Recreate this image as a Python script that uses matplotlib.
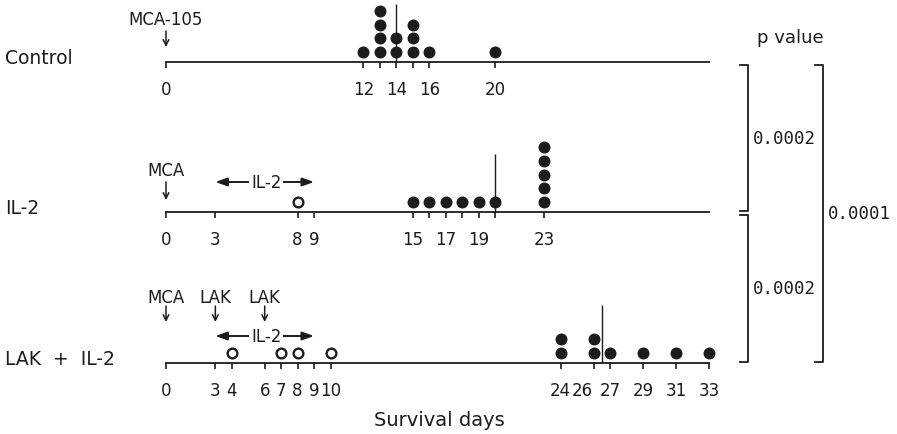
import matplotlib.pyplot as plt
import matplotlib.transforms as mtransforms
from collections import Counter

# survival day of each animal, one entry per animal
control_days = [12, 13, 13, 13, 13, 14, 14, 15, 15, 15, 16, 20]
il2_days = [15, 16, 17, 18, 19, 20, 23, 23, 23, 23, 23]
il2_early = [8]                      # open circles
lak_days = [24, 24, 26, 26, 27, 29, 31, 33]
lak_early = [4, 7, 8, 10]            # open circles
medians = [14, 20, 26.5]

row_names = ["Control", "IL-2", "LAK  +  IL-2"]

control_ticks = [0, 12, 13, 14, 15, 16, 20]
control_labels = ["0", "12", "", "14", "", "16", "20"]
il2_ticks = [0, 3, 8, 9, 15, 16, 17, 18, 19, 20, 23]
il2_labels = ["0", "3", "8", "9", "15", "", "17", "", "19", "", "23"]
lak_ticks = [0, 3, 4, 6, 7, 8, 9, 10, 24, 26, 27, 29, 31, 33]
lak_labels = [str(t) for t in lak_ticks]

# treatments: (label, day)
control_marks = [("MCA-105", 0)]
il2_marks = [("MCA", 0)]
lak_marks = [("MCA", 0), ("LAK", 3), ("LAK", 6)]
il2_span = (3, 9)

p_values = [(0, 1, "0.0002"), (1, 2, "0.0002"), (0, 2, "0.0001")]

# layout (pixels)
W, H = 897, 435
DAY0 = 166
PX_DAY = 16.45
BASE = [63, 213, 364]
ROW_H = 80
DOT_Y0, DOT_DY = 10, 13.7
INK = "#1c1c1c"

fig = plt.figure(figsize=(8.97, 4.35), dpi=100)


def stacked(days):
    seen = Counter()
    ys = []
    for d in days:
        ys.append(DOT_Y0 + DOT_DY * seen[d])
        seen[d] += 1
    return days, ys


def row_axes(i, ticks, labels):
    ax = fig.add_axes([0, (H - BASE[i]) / H, 1, ROW_H / H])
    ax.set_xlim(-DAY0 / PX_DAY, (W - DAY0) / PX_DAY)
    ax.set_ylim(0, ROW_H)
    ax.patch.set_alpha(0)
    for s in ("top", "left", "right"):
        ax.spines[s].set_visible(False)
    ax.spines["bottom"].set_bounds(0, 33)
    ax.spines["bottom"].set_linewidth(1.3)
    ax.spines["bottom"].set_color(INK)
    ax.set_yticks([])
    ax.set_xticks(ticks)
    ax.set_xticklabels(labels)
    ax.tick_params(axis="x", direction="out", length=4, width=1.2,
                   color=INK, pad=9, labelsize=12, labelcolor=INK)
    fig.text(5 / W, (H - BASE[i] + 4) / H, row_names[i], ha="left",
             va="center", fontsize=13.5, color=INK)
    return ax


def treat(ax, marks, text_y, top, bottom):
    for lab, d in marks:
        ax.text(d, text_y, lab, ha="center", va="center", fontsize=12,
                color=INK, clip_on=False)
        ax.annotate("", xy=(d, bottom), xytext=(d, top),
                    arrowprops=dict(arrowstyle="->,head_length=0.4,head_width=0.2",
                                    lw=1.1, color=INK, shrinkA=0, shrinkB=0),
                    annotation_clip=False)


def span(ax, y):
    ax.annotate("", xy=(il2_span[0], y), xytext=(il2_span[1], y),
                arrowprops=dict(arrowstyle="<|-|>,head_length=0.7,head_width=0.25",
                                lw=1.4, color=INK, shrinkA=0, shrinkB=0),
                annotation_clip=False)
    ax.text(sum(il2_span) / 2 + 0.1, y, "IL-2", ha="center", va="center",
            fontsize=12, color=INK,
            bbox=dict(boxstyle="square,pad=0.1", fc="white", ec="none"))


def dots(ax, days, median, early=None):
    ax.vlines(median, 0, 58, color=INK, lw=1.0, zorder=2)
    xs, ys = stacked(days)
    ax.plot(xs, ys, "o", ms=7.6, color=INK, clip_on=False, zorder=3)
    if early:
        xs, ys = stacked(early)
        ax.plot(xs, ys, "o", ms=7, mfc="white", mec=INK, mew=1.7,
                clip_on=False, zorder=3)


ax0 = row_axes(0, control_ticks, control_labels)
dots(ax0, control_days, medians[0])
treat(ax0, control_marks, 43, 31, 15)

ax1 = row_axes(1, il2_ticks, il2_labels)
dots(ax1, il2_days, medians[1], il2_early)
treat(ax1, il2_marks, 42, 30, 12)
span(ax1, 30)

ax2 = row_axes(2, lak_ticks, lak_labels)
dots(ax2, lak_days, medians[2], lak_early)
treat(ax2, lak_marks, 66, 57, 41)
span(ax2, 27)

# the "26" label sits a little left of its tick, as in the original
shift = mtransforms.ScaledTranslation(-11 / 100, 0, fig.dpi_scale_trans)
for lbl in ax2.get_xticklabels():
    if lbl.get_text() == "26":
        lbl.set_transform(lbl.get_transform() + shift)

fig.text(439 / W, (H - 421) / H, "Survival days", ha="center", va="center",
         fontsize=14, color=INK)

# p value brackets
ov = fig.add_axes([0, 0, 1, 1])
ov.set_xlim(0, W)
ov.set_ylim(H, 0)
ov.axis("off")
ov.text(790, 38, "p value", ha="center", va="center", fontsize=13, color=INK)
for a, b, p in p_values:
    x = 748 if b - a == 1 else 823
    top = BASE[a] + 3
    bot = BASE[b] - 1
    ov.plot([x - 8, x, x, x - 8], [top, top, bot, bot], color=INK, lw=1.3)
    ov.text(x + 5, (top + bot) / 2, p, ha="left", va="center",
            fontsize=12.5, family="DejaVu Sans Mono", color=INK)

fig.savefig("out.png", dpi=100)
